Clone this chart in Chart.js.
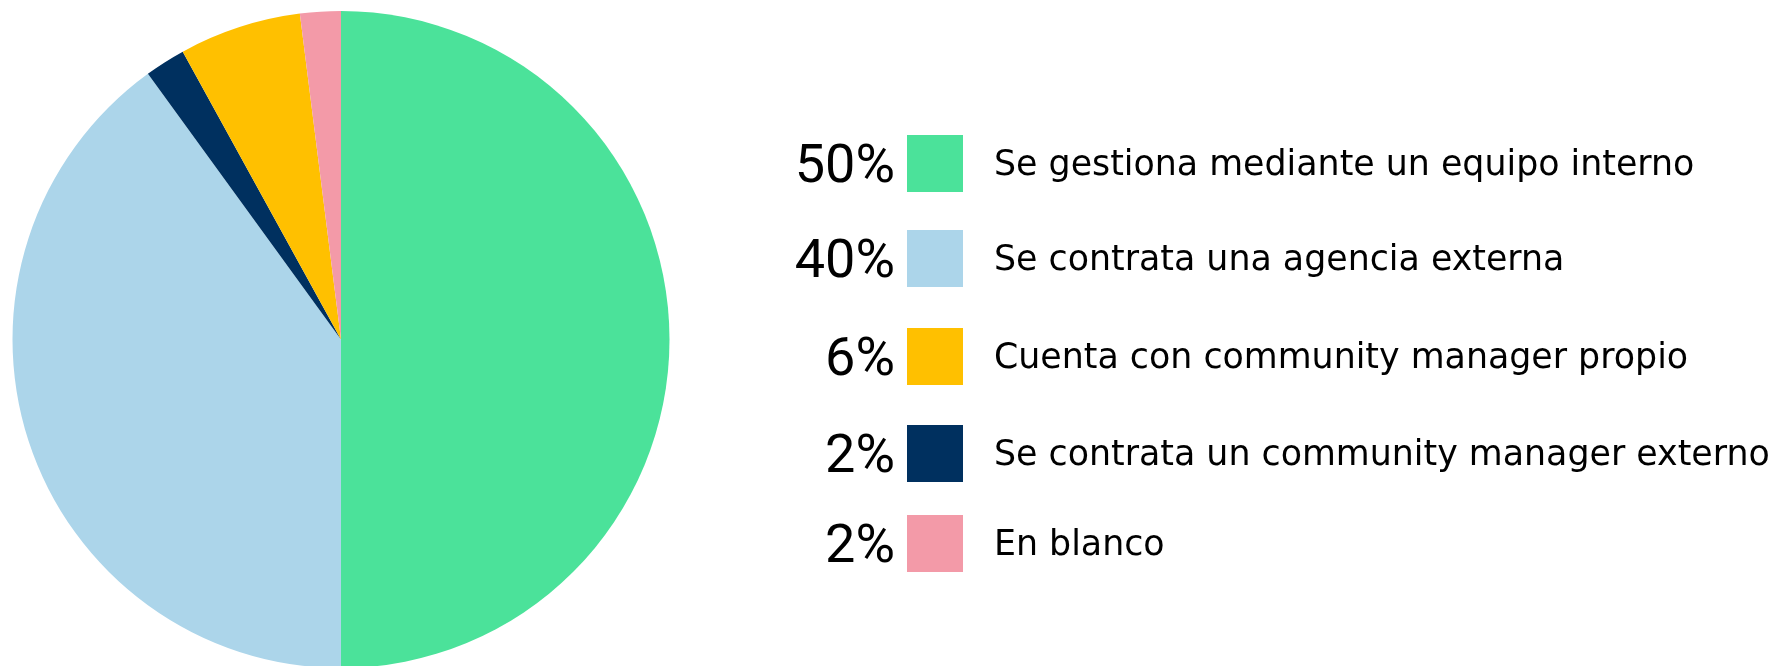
<!DOCTYPE html>
<html>
<head>
<meta charset="utf-8">
<script src="https://cdn.jsdelivr.net/npm/chart.js@4/dist/chart.umd.min.js"></script>
<style>
  html, body { margin: 0; padding: 0; background: #fff; overflow: hidden; }
  body { width: 1773px; height: 666px; position: relative; }
  .chart-container { position: absolute; left: 0; top: 0; width: 682px; height: 680px; }
  #legend { position: absolute; left: 0; top: 0; }
  .row { position: absolute; left: 0; height: 57px; width: 1773px; }
  .pct { position: absolute; right: calc(1773px - 895px); top: 0; height: 57px; line-height: 57px;
         font-family: Roboto, sans-serif; font-weight: 400; font-size: 54px; color: #000; text-align: right; }
  .box { position: absolute; left: 907px; top: 0; width: 56px; height: 57px; }
  .lbl { position: absolute; left: 994px; top: 0; height: 57px; line-height: 57px;
         font-family: "DejaVu Sans", sans-serif; font-size: 34.8px; color: #000; white-space: nowrap; }
</style>
</head>
<body>
<div class="chart-container"><canvas id="pie"></canvas></div>
<div id="legend"></div>
<script>
// pie order (clockwise from 12 o'clock)
const categories = [
  'Se gestiona mediante un equipo interno',
  'Se contrata una agencia externa',
  'Se contrata un community manager externo',
  'Cuenta con community manager propio',
  'En blanco'
];
const values = [50, 40, 2, 6, 2];
const colors = ['#4be29a', '#acd5ea', '#00305f', '#ffc000', '#f39aa8'];
// legend shows them in a different order
const legendOrder = [0, 1, 3, 2, 4];

// legend row tops (px), spacing isn't quite even in the original
const rowTop = [135, 230, 328, 425, 515];

const legend = document.getElementById('legend');
legendOrder.forEach((i, n) => {
  const row = document.createElement('div');
  row.className = 'row';
  row.style.top = rowTop[n] + 'px';
  row.innerHTML = `<span class="pct">${values[i]}%</span>` +
    `<span class="box" style="background:${colors[i]}"></span>` +
    `<span class="lbl">${categories[i]}</span>`;
  legend.appendChild(row);
});

new Chart(document.getElementById('pie'), {
  type: 'pie',
  data: {
    labels: categories,
    datasets: [{
      data: values,
      backgroundColor: colors,
      borderWidth: 0
    }]
  },
  options: {
    responsive: true,
    maintainAspectRatio: false,
    animation: false,
    layout: { padding: { top: 11, bottom: 12, left: 0, right: 0 } },
    plugins: {
      legend: { display: false },
      tooltip: { enabled: false }
    }
  }
});
</script>
</body>
</html>
